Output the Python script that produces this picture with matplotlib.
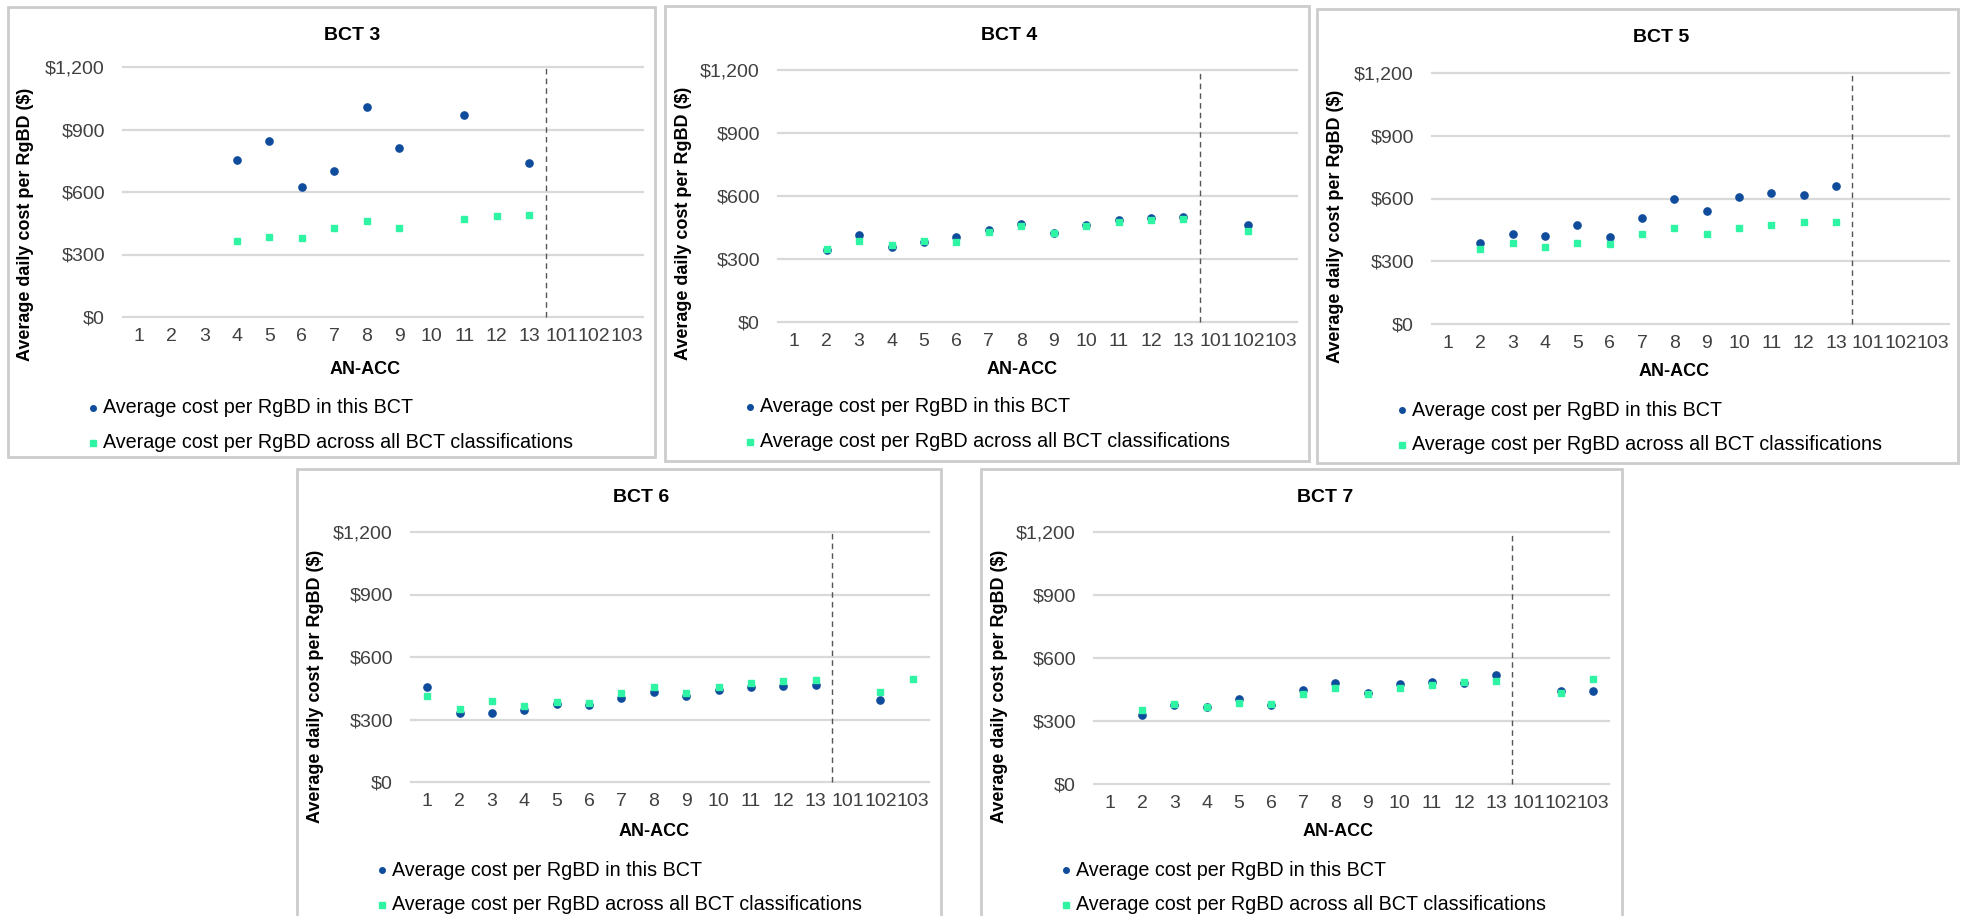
import numpy as np
import matplotlib.pyplot as plt
from matplotlib.patches import Rectangle
from matplotlib.lines import Line2D

plt.rcParams['font.family'] = ['Liberation Sans', 'DejaVu Sans']

nan = np.nan

# AN-ACC classes on the x axis
cats = ['1', '2', '3', '4', '5', '6', '7', '8', '9', '10', '11', '12', '13', '101', '102', '103']

# average daily cost per RgBD ($)
bct3_this = [nan, nan, nan, 754, 847, 624, 700, 1008, 810, nan, 971, nan, 741, nan, nan, nan]
bct3_all = [nan, nan, nan, 366, 385, 379, 428, 459, 428, nan, 472, 485, 490, nan, nan, nan]

bct4_this = [nan, 341, 414, 357, 379, 403, 436, 466, 425, 460, 488, 493, 499, nan, 464, nan]
bct4_all = [nan, 350, 388, 365, 386, 382, 427, 458, 426, 458, 474, 487, 490, nan, 432, nan]

bct5_this = [nan, 388, 428, 422, 471, 416, 508, 600, 538, 607, 624, 618, 661, nan, nan, nan]
bct5_all = [nan, 357, 387, 368, 387, 382, 430, 460, 430, 460, 473, 490, 490, nan, nan, nan]

bct6_this = [456, 331, 333, 344, 374, 370, 405, 430, 411, 440, 454, 459, 468, nan, 394, nan]
bct6_all = [415, 352, 388, 366, 386, 381, 427, 458, 427, 458, 473, 487, 490, nan, 432, 495]

bct7_this = [nan, 327, 376, 366, 406, 378, 447, 479, 431, 474, 487, 479, 520, nan, 444, 445]
bct7_all = [nan, 352, 383, 366, 386, 381, 427, 458, 427, 458, 473, 487, 490, nan, 432, 500]

yticks = [0, 300, 600, 900, 1200]
ylabels = ['$0', '$300', '$600', '$900', '$1,200']

leg_this = 'Average cost per RgBD in this BCT'
leg_all = 'Average cost per RgBD across all BCT classifications'

W, H = 1961, 916
blue = '#0f4c9b'
green = '#2ff4a3'

# (title, panel border box px, plot box px, series)
panels = [
    ('BCT 3', (8, 7, 655, 457), (123, 67, 643, 317), bct3_this, bct3_all),
    ('BCT 4', (665, 6, 1309, 461), (778, 70, 1297, 322), bct4_this, bct4_all),
    ('BCT 5', (1317, 9, 1958, 463), (1432, 73, 1949, 324), bct5_this, bct5_all),
    ('BCT 6', (297, 469, 941, 930), (411, 532, 929, 782), bct6_this, bct6_all),
    ('BCT 7', (981, 469, 1622, 930), (1094, 532, 1609, 784), bct7_this, bct7_all),
]


def fx(px):
    return px / W


def fy(py):
    return 1 - py / H


fig = plt.figure(figsize=(W / 100, H / 100), dpi=100)

for title, border, box, this, allb in panels:
    bx0, by0, bx1, by1 = border
    px0, py0, px1, py1 = box
    fig.add_artist(Rectangle((fx(bx0), fy(by1)), (bx1 - bx0) / W, (by1 - by0) / H,
                             transform=fig.transFigure, fill=False, ec='#cccccc', lw=2))
    ax = fig.add_axes([fx(px0), fy(py1), (px1 - px0) / W, (py1 - py0) / H])
    x = np.arange(len(cats))
    for yv in yticks:
        ax.axhline(yv, color='#d9d9d9', lw=1.6, zorder=0, clip_on=False)
    ax.plot([12.5, 12.5], [0, 1200], ls=(0, (4, 3)), color='#555555', lw=1, clip_on=False, zorder=1)
    ax.plot(x, this, 'o', color=blue, ms=5.2, ls='none', zorder=3)
    ax.plot(x, allb, 's', color=green, ms=5, ls='none', zorder=4)
    ax.set_xlim(-0.5, 15.5)
    ax.set_ylim(0, 1200)
    ax.set_xticks(x, cats)
    ax.set_yticks(yticks, ylabels)
    ax.tick_params(axis='both', length=0, labelsize=14, colors='#404040')
    ax.tick_params(axis='y', pad=13)
    ax.tick_params(axis='x', pad=8)
    for s in ax.spines.values():
        s.set_visible(False)

    fig.text(fx(bx0 + 344), fy(by0 + 29), title, ha='center', va='center',
             fontsize=14, fontweight='bold')
    fig.text(fx(bx0 + 18), fy(by0 + 217), 'Average daily cost per RgBD ($)', rotation=90,
             ha='center', va='center', fontsize=13, fontweight='bold')
    fig.text(fx(bx0 + 357), fy(by0 + 363), 'AN-ACC', ha='center', va='center',
             fontsize=13, fontweight='bold')

    # legend
    fig.add_artist(Line2D([fx(bx0 + 85)], [fy(by0 + 401)], marker='o', color=blue, ms=4,
                          transform=fig.transFigure))
    fig.add_artist(Line2D([fx(bx0 + 85)], [fy(by0 + 436)], marker='s', color=green, ms=4,
                          transform=fig.transFigure))
    fig.text(fx(bx0 + 95), fy(by0 + 401), leg_this, ha='left', va='center', fontsize=14.2)
    fig.text(fx(bx0 + 95), fy(by0 + 436), leg_all, ha='left', va='center', fontsize=14.2)

fig.savefig('out.png', dpi=100)
